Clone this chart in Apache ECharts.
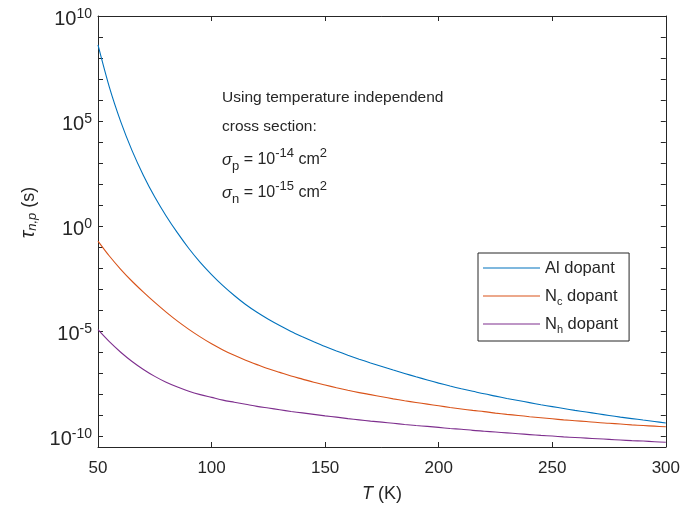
<!DOCTYPE html>
<html><head><meta charset="utf-8">
<script src="https://cdn.jsdelivr.net/npm/echarts@6/dist/echarts.min.js"></script>
<style>html,body{margin:0;padding:0;background:#fff;}#c{width:683px;height:513px;}</style>
</head><body><div id="c"></div>
<script>
// ---- data ----
const temperatures = [50, 55, 60, 65, 70, 75, 80, 85, 90, 95, 100, 105, 110, 115, 120, 125, 130, 135, 140, 145, 150,
  155, 160, 165, 170, 175, 180, 185, 190, 195, 200, 205, 210, 215, 220, 225, 230, 235, 240, 245, 250,
  255, 260, 265, 270, 275, 280, 285, 290, 295, 300];
const alDopant = [4.17e8, 4.07e6, 9.33e4, 3.89e3, 257, 24.0, 3.02, 0.468, 0.0851, 0.0186, 4.90e-3, 1.45e-3, 4.90e-4, 1.82e-4, 7.76e-5, 3.63e-5, 1.82e-5, 9.55e-6, 5.37e-6, 3.09e-6, 1.82e-6,
  1.12e-6, 7.08e-7, 4.57e-7, 3.02e-7, 2.04e-7, 1.38e-7, 9.55e-8, 6.61e-8, 4.68e-8, 3.31e-8,
  2.40e-8, 1.78e-8, 1.35e-8, 1.02e-8, 7.94e-9, 6.17e-9, 4.90e-9, 3.89e-9, 3.09e-9, 2.51e-9,
  2.04e-9, 1.66e-9, 1.38e-9, 1.15e-9, 9.55e-10, 7.94e-10, 6.76e-10, 5.75e-10, 4.90e-10, 4.17e-10];
const ncDopant = [0.191, 0.0372, 8.71e-3, 2.34e-3, 7.08e-4, 2.29e-4, 7.94e-5, 2.95e-5, 1.20e-5, 5.25e-6, 2.45e-6, 1.26e-6, 6.92e-7, 4.07e-7, 2.51e-7, 1.58e-7, 1.07e-7, 7.24e-8, 5.13e-8, 3.63e-8, 2.69e-8,
  2.0e-8, 1.51e-8, 1.17e-8, 9.33e-9, 7.41e-9, 5.89e-9, 4.79e-9, 3.98e-9, 3.31e-9, 2.75e-9,
  2.29e-9, 1.95e-9, 1.66e-9, 1.45e-9, 1.23e-9, 1.07e-9, 9.55e-10, 8.32e-10, 7.41e-10, 6.61e-10,
  5.89e-10, 5.37e-10, 4.90e-10, 4.37e-10, 4.07e-10, 3.72e-10, 3.39e-10, 3.16e-10, 2.95e-10, 2.75e-10];
const nhDopant = [1.15e-5, 3.09e-6, 9.77e-7, 3.55e-7, 1.48e-7, 6.92e-8, 3.63e-8, 2.14e-8, 1.35e-8, 9.33e-9, 6.92e-9, 5.13e-9, 4.07e-9, 3.24e-9, 2.57e-9, 2.14e-9, 1.78e-9, 1.48e-9, 1.26e-9, 1.07e-9, 9.12e-10,
  7.94e-10, 6.76e-10, 5.89e-10, 5.13e-10, 4.57e-10, 4.07e-10, 3.55e-10, 3.16e-10, 2.88e-10, 2.57e-10,
  2.29e-10, 2.09e-10, 1.86e-10, 1.70e-10, 1.55e-10, 1.41e-10, 1.29e-10, 1.17e-10, 1.07e-10, 1.0e-10,
  9.12e-11, 8.51e-11, 7.94e-11, 7.41e-11, 6.92e-11, 6.46e-11, 6.03e-11, 5.75e-11, 5.37e-11, 5.01e-11];
const seriesNames = ['Al dopant', 'Nc dopant', 'Nh dopant'];
const xTickValues = [50, 100, 150, 200, 250, 300];
const yTickValues = [1e-10, 1e-9, 1e-8, 1e-7, 1e-6, 1e-5, 1e-4, 1e-3, 1e-2, 1e-1, 1, 1e1, 1e2, 1e3, 1e4, 1e5, 1e6, 1e7, 1e8, 1e9, 1e10];
const yLabelValues = [1e-10, 1e-5, 1, 1e5, 1e10];
const xMin = 50, xMax = 300, yMin = 3e-11, yMax = 1e10;

const AX = '#262626';
const FONT = '"Liberation Sans", Arial, Helvetica, sans-serif';
const colors = ['#0072BD', '#D95319', '#7E2F8E'];
const seriesValues = [alDopant, ncDopant, nhDopant];

const chart = echarts.init(document.getElementById('c'), null, {renderer: 'canvas'});

function yLab(v) {
  const e = Math.round(Math.log10(v));
  return '{b|10}{s|' + e + '}';
}
const legendRich = {
  sub: {fontSize: 11, lineHeight: 10, verticalAlign: 'bottom', fontFamily: FONT, color: AX}
};
const legendNames = {'Al dopant': 'Al dopant', 'Nc dopant': 'N{sub|c} dopant', 'Nh dopant': 'N{sub|h} dopant'};

const tickStyle = {show: true, inside: true, length: 5, lineStyle: {color: AX, width: 1}};
const annRich = {
  g: {fontSize: 16.5, fontStyle: 'italic', fontFamily: FONT, fill: AX, lineHeight: 26},
  sb: {fontSize: 13, lineHeight: 12, verticalAlign: 'bottom', fontFamily: FONT, fill: AX},
  sp: {fontSize: 13, lineHeight: 12, verticalAlign: 'top', fontFamily: FONT, fill: AX}
};

const option = {
  backgroundColor: '#fff',
  animation: false,
  grid: {left: 98, right: 15, top: 16, bottom: 66, containLabel: false},
  legend: {
    orient: 'vertical', left: 478, top: 253,
    padding: [4, 11, 6, 5],
    icon: 'rect',
    itemWidth: 57, itemHeight: 1.2, itemGap: 6,
    borderColor: AX, borderWidth: 1, backgroundColor: '#fff',
    textStyle: {fontSize: 16.5, fontFamily: FONT, color: AX, lineHeight: 22, rich: legendRich},
    formatter: function (n) { return legendNames[n]; },
    data: seriesNames
  },
  xAxis: [{
    type: 'value', min: xMin, max: xMax, interval: 50, position: 'bottom',
    axisLine: {show: true, onZero: false, lineStyle: {color: AX, width: 1}},
    axisTick: tickStyle,
    splitLine: {show: false},
    axisLabel: {margin: 13, fontSize: 17, fontFamily: FONT, color: AX,
      customValues: xTickValues},
    name: '{i|T} (K)', nameLocation: 'middle', nameGap: 38,
    nameTextStyle: {fontSize: 18, fontFamily: FONT, color: AX,
      rich: {i: {fontStyle: 'italic', fontSize: 18, fontFamily: FONT, color: AX}}}
  }, {
    type: 'value', min: xMin, max: xMax, interval: 50, position: 'top',
    axisLine: {show: true, onZero: false, lineStyle: {color: AX, width: 1}},
    axisTick: tickStyle, axisLabel: {show: false}, splitLine: {show: false}
  }],
  yAxis: [{
    type: 'log', logBase: 10, min: yMin, max: yMax, position: 'left',
    axisLine: {show: true, onZero: false, lineStyle: {color: AX, width: 1}},
    axisTick: Object.assign({customValues: yTickValues}, tickStyle),
    splitLine: {show: false}, minorTick: {show: false},
    axisLabel: {
      customValues: yLabelValues, margin: 6, formatter: yLab, padding: [6, 0, 0, 0],
      rich: {
        b: {fontSize: 20, lineHeight: 24, fontFamily: FONT, color: AX},
        s: {fontSize: 14, lineHeight: 12, verticalAlign: 'top', fontFamily: FONT, color: AX}
      }
    },
    name: '{t|τ}{s|n,p} (s)', nameLocation: 'middle', nameGap: 55, nameRotate: 90,
    nameTextStyle: {fontSize: 18, fontFamily: FONT, color: AX, padding: [0, 0, 0, 38],
      rich: {
        t: {fontSize: 20, fontStyle: 'italic', fontFamily: FONT, color: AX},
        s: {fontSize: 13, fontStyle: 'italic', lineHeight: 10, verticalAlign: 'bottom', fontFamily: FONT, color: AX}
      }}
  }, {
    type: 'log', logBase: 10, min: yMin, max: yMax, position: 'right',
    axisLine: {show: true, onZero: false, lineStyle: {color: AX, width: 1}},
    axisTick: Object.assign({customValues: yTickValues}, tickStyle),
    axisLabel: {show: false}, splitLine: {show: false}
  }],
  graphic: [
    {type: 'text', left: 222, top: 90, z: 10,
      style: {text: 'Using temperature independend', fontSize: 15.5, fontFamily: FONT, fill: AX}},
    {type: 'text', left: 222, top: 119, z: 10,
      style: {text: 'cross section:', fontSize: 15.5, fontFamily: FONT, fill: AX}},
    {type: 'text', left: 222, top: 147, z: 10,
      style: {text: '{g|σ}{sb|p} = 10{sp|-14} cm{sp|2}', fontSize: 16, fontFamily: FONT, fill: AX, rich: annRich}},
    {type: 'text', left: 222, top: 180, z: 10,
      style: {text: '{g|σ}{sb|n} = 10{sp|-15} cm{sp|2}', fontSize: 16, fontFamily: FONT, fill: AX, rich: annRich}}
  ],
  series: seriesNames.map(function (n, k) {
    return {
      name: n, type: 'line', xAxisIndex: 0, yAxisIndex: 0,
      data: temperatures.map(function (t, i) { return [t, seriesValues[k][i]]; }),
      symbol: 'none', smooth: 0.3, clip: true,
      lineStyle: {color: colors[k], width: 1.1},
      itemStyle: {color: colors[k]}
    };
  })
};
chart.setOption(option);
</script>
</body></html>
